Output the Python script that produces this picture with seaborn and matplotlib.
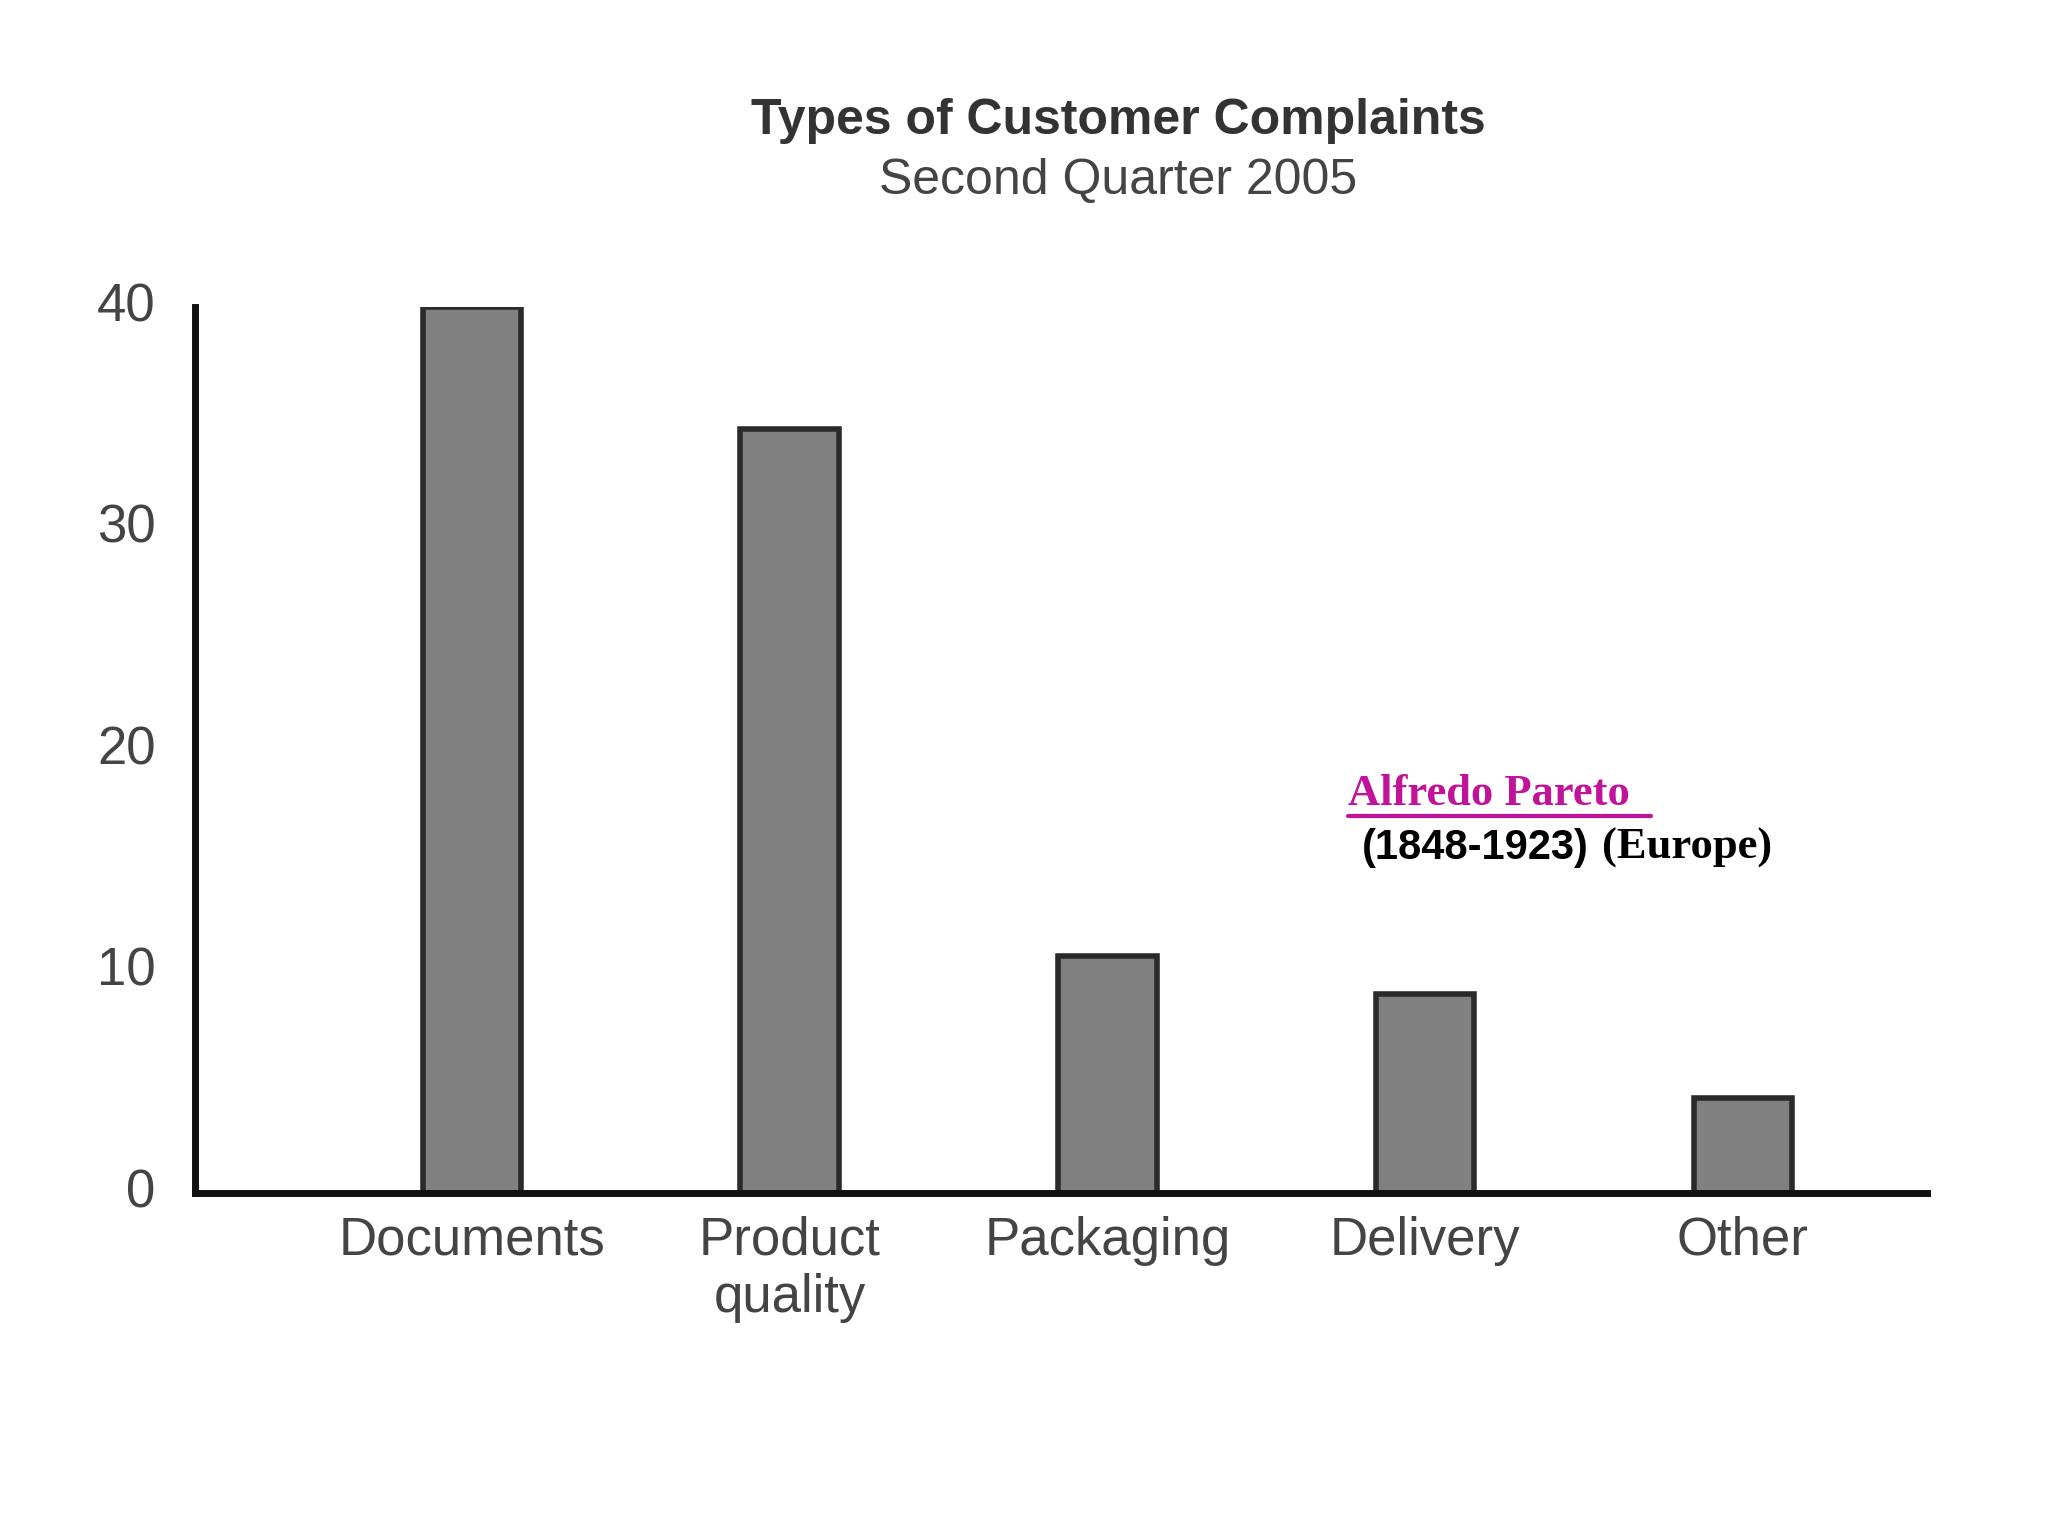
import matplotlib
matplotlib.use("Agg")
import matplotlib.pyplot as plt
import seaborn as sns
import pandas as pd

categories = ["Documents", "Product\nquality", "Packaging", "Delivery", "Other"]
values = [40, 34.5, 10.7, 9, 4.3]
yticks = [0, 10, 20, 30, 40]

sns.set_style("white")
plt.rcParams['font.family'] = ['Liberation Sans', 'DejaVu Sans']

df = pd.DataFrame({"cat": categories, "val": values})
fig = plt.figure(figsize=(10.24, 7.68), dpi=200)
ax = fig.add_axes([0.095, 0.223, 0.846, 0.577])
sns.barplot(data=df, x="cat", y="val", color="#808080", saturation=1,
            width=0.31, edgecolor="#2a2a2a", linewidth=2, ax=ax)
ax.set_xlim(-0.873, 4.58)
ax.set_ylim(0, 40)
ax.set_yticks(yticks)
ax.set_xlabel("")
ax.set_ylabel("")
for s in ["top", "right"]:
    ax.spines[s].set_visible(False)
for s in ["left", "bottom"]:
    ax.spines[s].set_color("#111111")
    ax.spines[s].set_linewidth(2.5)
ax.tick_params(axis="both", length=0, labelsize=19, labelcolor="#444444")
ax.tick_params(axis="y", pad=14)
ax.tick_params(axis="x", pad=8)
for t in ax.get_yticklabels():
    t.set_va("center")

fig.text(0.546, 0.921, "Types of Customer Complaints", ha="center", va="center",
         fontsize=18, fontweight="bold", color="#333333")
fig.text(0.546, 0.882, "Second Quarter 2005", ha="center", va="center",
         fontsize=18, color="#444444")
fig.text(0.658, 0.483, "Alfredo Pareto", ha="left", va="center", fontsize=16,
         fontweight="bold", color="#c0139a", family=["Liberation Serif", "DejaVu Serif"])
fig.add_artist(plt.Line2D([0.658, 0.806], [0.469, 0.469], color="#c0139a", lw=1.5))
fig.text(0.665, 0.448, "(1848-1923)", ha="left", va="center", fontsize=15,
         fontweight="bold", color="black")
fig.text(0.782, 0.448, "(Europe)", ha="left", va="center", fontsize=16,
         fontweight="bold", color="black", family=["Liberation Serif", "DejaVu Serif"])
fig.savefig("out.png", dpi=200, facecolor="white")
